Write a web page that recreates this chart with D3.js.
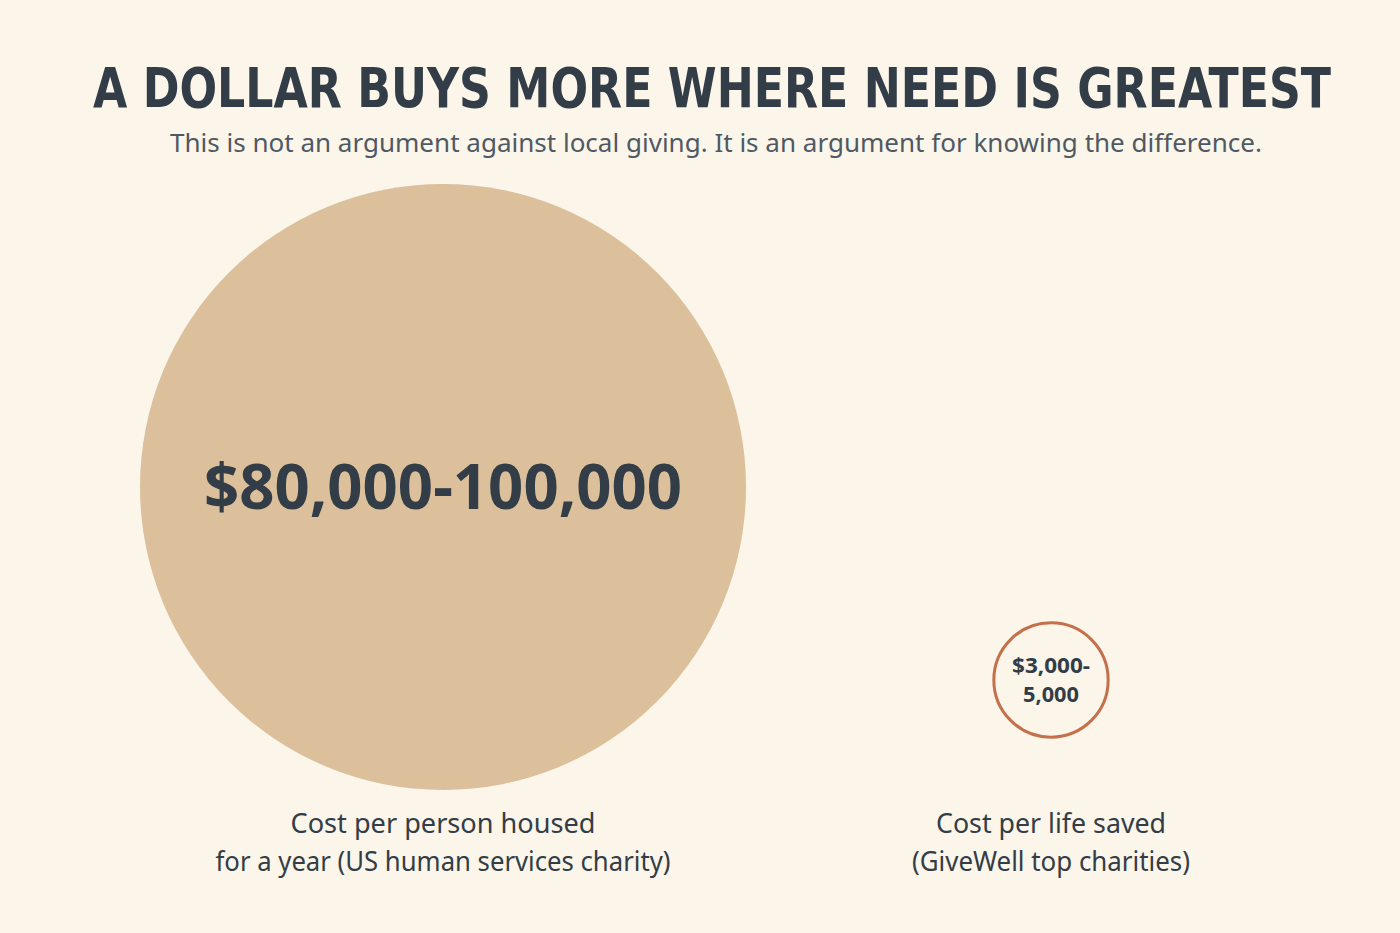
<!DOCTYPE html>
<html><head><meta charset="utf-8">
<script src="https://cdn.jsdelivr.net/npm/d3@7"></script>
<style>body{margin:0;background:#fbf5ea;}svg{display:block}</style>
</head><body>
<svg id="c" width="1400" height="933"></svg>
<script>
const categories = ["Cost per person housed|for a year (US human services charity)", "Cost per life saved|(GiveWell top charities)"];
const valueLabels = ["$80,000-100,000", "$3,000-|5,000"];
const values = [80000, 3000];
const title = "A DOLLAR BUYS MORE WHERE NEED IS GREATEST";
const subtitle = "This is not an argument against local giving. It is an argument for knowing the difference.";

const svg = d3.select("#c");
svg.append("rect").attr("width",1400).attr("height",933).attr("fill","#fbf5ea");
const ink = "#333d47";
svg.append("text").attr("x",712).attr("y",107).attr("text-anchor","middle")
  .attr("font-family","DejaVu Sans Condensed, DejaVu Sans").attr("font-weight","bold")
  .attr("font-size",56).attr("fill",ink).attr("textLength",1238).attr("lengthAdjust","spacingAndGlyphs").text(title);
svg.append("text").attr("x",716).attr("y",152).attr("text-anchor","middle")
  .attr("font-family","Noto Sans, sans-serif").attr("font-size",25).attr("fill","#4f5963")
  .attr("textLength",1092).attr("lengthAdjust","spacingAndGlyphs").text(subtitle);

const r = d3.scaleSqrt().domain([0, d3.max(values)]).range([0, 303]);
const x = d3.scalePoint().domain(d3.range(values.length)).range([443,1051]);
const cyFor = i => i===0 ? 487 : 680;
const g = svg.selectAll("g.b").data(values).join("g").attr("class","b");
g.append("circle").attr("cx",(d,i)=>x(i)).attr("cy",(d,i)=>cyFor(i)).attr("r",(d,i)=>i===0?r(d):r(d)-1.5)
  .attr("fill",(d,i)=>i===0?"#dbc09b":"#fbf5ea").attr("stroke",(d,i)=>i===0?"none":"#c4704b").attr("stroke-width",3);
g.each(function(d,i){
  const lines = valueLabels[i].split("|");
  const fs = i===0?62:22, lh = i===0?fs*1.2:29;
  const cy = cyFor(i);
  const t = d3.select(this).append("text").attr("text-anchor","middle")
    .attr("font-family","Noto Sans, sans-serif").attr("font-weight","bold").attr("font-size",fs).attr("fill",ink);
  lines.forEach((l,k)=>t.append("tspan").attr("x",x(i)).attr("y",cy+fs*0.36+(k-(lines.length-1)/2)*lh)
    .attr("textLength", i===0?478:(k===0?78:56)).attr("lengthAdjust","spacingAndGlyphs").text(l));
  const c = d3.select(this).append("text").attr("text-anchor","middle")
    .attr("font-family","Noto Sans, sans-serif").attr("font-size",27).attr("fill",ink);
  categories[i].split("|").forEach((l,k)=>c.append("tspan").attr("x",x(i)).attr("y",833+k*38)
    .attr("textLength", i===0?(k===0?305:455):(k===0?230:278)).attr("lengthAdjust","spacingAndGlyphs").text(l));
});
</script>
</body></html>
